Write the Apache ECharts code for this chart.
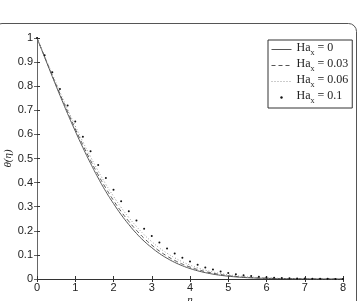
<!DOCTYPE html>
<html>
<head>
<meta charset="utf-8">
<script src="https://cdn.jsdelivr.net/npm/echarts@6/dist/echarts.min.js"></script>
<style>
html, body { margin: 0; padding: 0; background: #fff; }
#theta-chart { width: 358px; height: 301px; }
</style>
</head>
<body>
<div id="theta-chart"></div>
<script>
// eta grid (x axis)
var eta = [0, 0.2, 0.4, 0.6, 0.8, 1, 1.2, 1.4, 1.6, 1.8, 2, 2.2, 2.4, 2.6, 2.8, 3, 3.2, 3.4, 3.6, 3.8,
  4, 4.2, 4.4, 4.6, 4.8, 5, 5.2, 5.4, 5.6, 5.8, 6, 6.2, 6.4, 6.6, 6.8, 7, 7.2, 7.4, 7.6, 7.8, 8];

// theta(eta)
var thetaHa0 = [1, 0.920, 0.840, 0.762, 0.686, 0.614, 0.545, 0.480, 0.419, 0.363, 0.313, 0.267, 0.226, 0.189, 0.157,
  0.130, 0.106, 0.086, 0.069, 0.055, 0.0435, 0.034, 0.0264, 0.0202, 0.0154, 0.0116, 0.0087, 0.0064, 0.0047, 0.0035,
  0.0025, 0.0018, 0.0012, 0.0009, 0.0006, 0.0004, 0.0003, 0.0002, 0.0001, 0.0001, 0];
var thetaHa003 = [1, 0.922, 0.844, 0.768, 0.695, 0.623, 0.556, 0.492, 0.432, 0.377, 0.326, 0.280, 0.239, 0.202, 0.169,
  0.141, 0.116, 0.095, 0.077, 0.062, 0.0496, 0.0392, 0.0308, 0.0240, 0.0185, 0.0141, 0.0107, 0.0080, 0.0060, 0.0045,
  0.0033, 0.0024, 0.0017, 0.0012, 0.0009, 0.0006, 0.0004, 0.0003, 0.0002, 0.0001, 0];
var thetaHa006 = [1, 0.924, 0.850, 0.776, 0.704, 0.635, 0.569, 0.507, 0.448, 0.393, 0.343, 0.297, 0.255, 0.218, 0.184,
  0.155, 0.129, 0.107, 0.088, 0.0715, 0.0577, 0.0463, 0.0369, 0.0291, 0.0228, 0.0177, 0.0136, 0.0104, 0.0079, 0.0059,
  0.0045, 0.0033, 0.0024, 0.0018, 0.0012, 0.0009, 0.0006, 0.0004, 0.0003, 0.0001, 0];
var thetaHa01 = [1, 0.928, 0.858, 0.788, 0.720, 0.654, 0.590, 0.530, 0.473, 0.419, 0.370, 0.323, 0.281, 0.243, 0.209,
  0.178, 0.151, 0.127, 0.106, 0.0881, 0.0727, 0.0595, 0.0482, 0.039, 0.0313, 0.0249, 0.0195, 0.0154, 0.012, 0.0092,
  0.0071, 0.0053, 0.0041, 0.0031, 0.0023, 0.0017, 0.0012, 0.0009, 0.0006, 0.0004, 0.0002];

var haValues = ["0", "0.03", "0.06", "0.1"];
var seriesNames = ["Ha0", "Ha003", "Ha006", "Ha01"];

function pairs(ys) {
  return eta.map(function (x, i) { return [x, ys[i]]; });
}

var myChart = echarts.init(document.getElementById("theta-chart"));
var option;

option = {
  animation: false,
  graphic: [
    {
      // outer rounded frame
      type: "rect",
      z: -10,
      shape: { x: -6, y: 23.5, width: 362.5, height: 300, r: 8 },
      style: { fill: "none", stroke: "#555", lineWidth: 1 },
    },
  ],
  grid: {
    left: 37,
    right: 15,
    top: 38,
    bottom: 22,
    containLabel: false,
    outerBoundsMode: "none",
  },
  legend: {
    orient: "vertical",
    left: 268,
    top: 40,
    padding: [2, 4, 3, 3],
    itemGap: 1,
    itemWidth: 20,
    itemHeight: 3,
    borderColor: "#333",
    borderWidth: 1,
    backgroundColor: "#fff",
    lineStyle: { width: 1 },
    data: [
      { name: "Ha0", itemStyle: { opacity: 0 } },
      { name: "Ha003", itemStyle: { opacity: 0 } },
      { name: "Ha006", itemStyle: { opacity: 0 } },
      { name: "Ha01" },
    ],
    formatter: function (name) {
      var v = haValues[seriesNames.indexOf(name)];
      return "{t|Ha}{s|x}{t| = " + v + "}";
    },
    textStyle: {
      rich: {
        t: {
          fontFamily: "Liberation Serif",
          fontSize: 12,
          color: "#222",
          verticalAlign: "top",
          lineHeight: 15,
        },
        s: {
          fontFamily: "Liberation Serif",
          fontSize: 8,
          color: "#222",
          verticalAlign: "bottom",
          lineHeight: 15,
        },
      },
    },
  },
  xAxis: [
    {
      type: "value",
      min: 0,
      max: 8,
      interval: 1,
      name: "η",
      nameLocation: "middle",
      nameGap: 16,
      nameMoveOverlap: false,
      nameTextStyle: { fontFamily: "Liberation Serif", fontStyle: "italic", fontSize: 11, color: "#222" },
      axisLine: { lineStyle: { color: "#333" } },
      axisTick: { inside: true, length: 3, lineStyle: { color: "#333" } },
      axisLabel: { fontFamily: "Liberation Sans", fontSize: 11, color: "#222", margin: 3 },
      splitLine: { show: false },
    },
    {
      type: "value",
      position: "top",
      min: 0,
      max: 8,
      interval: 1,
      axisLine: { lineStyle: { color: "#333" } },
      axisTick: { inside: true, length: 3, lineStyle: { color: "#333" } },
      axisLabel: { show: false },
      splitLine: { show: false },
    },
  ],
  yAxis: [
    {
      type: "value",
      min: 0,
      max: 1,
      interval: 0.1,
      name: "θ(η)",
      nameLocation: "middle",
      nameRotate: 90,
      nameGap: 23,
      nameMoveOverlap: false,
      nameTextStyle: { fontFamily: "Liberation Serif", fontStyle: "italic", fontSize: 11, color: "#222" },
      axisLine: { lineStyle: { color: "#333" } },
      axisTick: { inside: true, length: 3, lineStyle: { color: "#333" } },
      axisLabel: { fontFamily: "Liberation Sans", fontSize: 11, color: "#222", margin: 4 },
      splitLine: { show: false },
    },
    {
      type: "value",
      position: "right",
      min: 0,
      max: 1,
      interval: 0.1,
      axisLine: { lineStyle: { color: "#666" } },
      axisTick: { inside: true, length: 3, lineStyle: { color: "#666" } },
      axisLabel: { show: false },
      splitLine: { show: false },
    },
  ],
  series: [
    {
      name: "Ha0",
      type: "line",
      smooth: true,
      symbol: "none",
      itemStyle: { color: "#555" },
      lineStyle: { color: "#555", width: 1 },
      data: pairs(thetaHa0),
    },
    {
      name: "Ha003",
      type: "line",
      smooth: true,
      symbol: "none",
      itemStyle: { color: "#555" },
      lineStyle: { color: "#555", width: 1, type: [4, 3] },
      data: pairs(thetaHa003),
    },
    {
      name: "Ha006",
      type: "line",
      smooth: true,
      symbol: "none",
      itemStyle: { color: "#999" },
      lineStyle: { color: "#999", width: 1, type: [1, 2] },
      data: pairs(thetaHa006),
    },
    {
      name: "Ha01",
      type: "line",
      symbol: "circle",
      symbolSize: 2,
      showSymbol: true,
      itemStyle: { color: "#111" },
      lineStyle: { width: 0, opacity: 0 },
      data: pairs(thetaHa01),
    },
  ],
};

option && myChart.setOption(option);
</script>
</body>
</html>
